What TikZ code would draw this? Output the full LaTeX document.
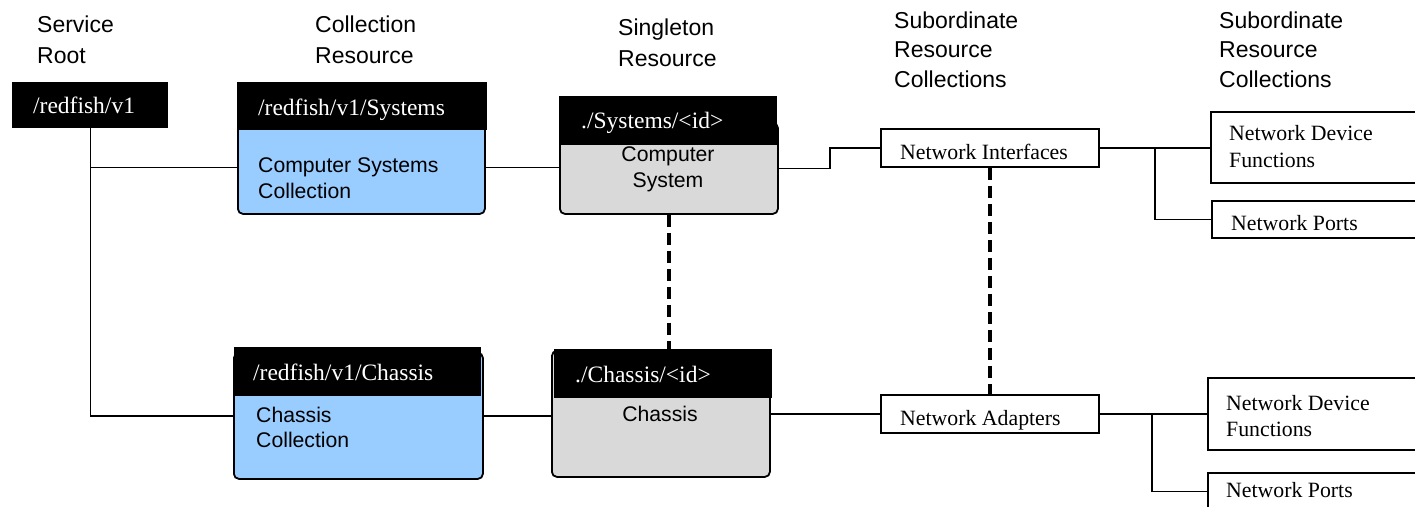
\documentclass[tikz,border=0pt]{standalone}
\usepackage{fontspec}
\setmainfont{Liberation Serif}
\setsansfont{Liberation Sans}
\usetikzlibrary{calc}
\definecolor{collblue}{HTML}{99CCFF}
\definecolor{singray}{HTML}{D9D9D9}
\begin{document}
\begin{tikzpicture}[x=1pt,y=-1pt,
 colhdr/.style={font=\sffamily\fontsize{23}{31}\selectfont, align=left, anchor=base west, inner sep=0pt},
 blackbar/.style={fill=black, draw=none, anchor=north west, inner sep=0pt},
 body/.style={draw=black, line width=1.8pt, rounded corners=5pt, anchor=north west, inner sep=0pt},
 whitebox/.style={draw=black, fill=white, line width=1.8pt, anchor=north west, inner sep=0pt},
 bartext/.style={text=white, font=\fontsize{23.5}{26}\selectfont, anchor=base west, inner sep=0pt},
 sanstext/.style={font=\sffamily\fontsize{21.2}{26}\selectfont, inner sep=0pt, anchor=base west, align=left},
 serftext/.style={font=\fontsize{21.8}{27}\selectfont, inner sep=0pt, anchor=base west, align=left},
 link/.style={line width=1.4pt},
 dashlink/.style={line width=3.2pt, dash pattern=on 12pt off 6pt}]
\useasboundingbox (0,0) rectangle (1415,506);
\clip (0,0) rectangle (1415,506);

% column headers (anchored at the baseline of the last line)
\node[colhdr] (h1) at (37,63) {Service\\Root};
\node[colhdr] (h2) at (315,63) {Collection\\Resource};
\node[colhdr] (h3) at (618,66) {Singleton\\Resource};
\node[colhdr, font=\sffamily\fontsize{23}{29.5}\selectfont] (h4) at (894,87) {Subordinate\\Resource\\Collections};
\node[colhdr, font=\sffamily\fontsize{23}{29.5}\selectfont] (h5) at (1219,87) {Subordinate\\Resource\\Collections};

% service root
\node[blackbar, minimum width=156pt, minimum height=46pt] (root) at (12,82) {};
\node[bartext] (rootT) at (33,113) {/redfish/v1};

% systems collection
\node[body, fill=collblue, minimum width=247pt, minimum height=93pt] (sysc) at (237,120) {};
\node[blackbar, minimum width=250pt, minimum height=48pt] (syscH) at (237,82) {};
\node[bartext] (syscHT) at (258,115) {/redfish/v1/Systems};
\node[sanstext] (syscT) at (258,198) {Computer Systems\\Collection};

% computer system
\node[body, fill=singray, minimum width=218pt, minimum height=91pt] (syss) at (559,122) {};
\node[blackbar, minimum width=218pt, minimum height=49pt] (syssH) at (559,96) {};
\node[bartext] (syssHT) at (581,128) {./Systems/\textless id\textgreater};
\node[sanstext, anchor=base, align=center, font=\sffamily\fontsize{21.2}{25.5}\selectfont] (syssT) at (668,187) {Computer\\System};

% chassis collection
\node[body, fill=collblue, minimum width=249pt, minimum height=126pt] (chc) at (233,352) {};
\node[blackbar, minimum width=247pt, minimum height=49pt] (chcH) at (234,347) {};
\node[bartext] (chcHT) at (253,380) {/redfish/v1/Chassis};
\node[sanstext, font=\sffamily\fontsize{21.2}{25}\selectfont] (chcT) at (256,447) {Chassis\\Collection};

% chassis
\node[body, fill=singray, minimum width=218pt, minimum height=126pt] (chs) at (551,350) {};
\node[blackbar, minimum width=218pt, minimum height=49pt] (chsH) at (554,349) {};
\node[bartext] (chsHT) at (575,382) {./Chassis/\textless id\textgreater};
\node[sanstext, anchor=base] (chsT) at (660,421) {Chassis};

% subordinate collections
\node[whitebox, minimum width=218pt, minimum height=38pt] (ni) at (880,128) {};
\node[serftext] (niT) at (900,159) {Network Interfaces};
\node[whitebox, minimum width=218pt, minimum height=38pt] (na) at (880,394) {};
\node[serftext] (naT) at (900,425) {Network Adapters};

\node[whitebox, minimum width=260pt, minimum height=71pt] (ndfA) at (1210,111) {};
\node[serftext] (ndfAT) at (1229,167) {Network Device\\Functions};
\node[whitebox, minimum width=260pt, minimum height=37pt] (npA) at (1211,200) {};
\node[serftext] (npAT) at (1231,230) {Network Ports};

\node[whitebox, minimum width=260pt, minimum height=72pt] (ndfB) at (1207,377) {};
\node[serftext, font=\fontsize{21.8}{26}\selectfont] (ndfBT) at (1226,436) {Network Device\\Functions};
\node[whitebox, minimum width=260pt, minimum height=37pt] (npB) at (1207,472) {};
\node[serftext] (npBT) at (1226,497) {Network Ports};

% connectors
\coordinate (brA) at (1155,0);
\coordinate (brB) at (1152,0);
\draw[link] (root.south) |- (sysc.west);
\draw[link] (root.south) |- (chc.west);
\draw[link] (sysc.east) -- (sysc.east -| syss.west);
\draw[link] (syss.east) -- ++(51,0) |- (ni.west);
\draw[link] (ni.east) -- (ni.east -| ndfA.west);
\draw[link] (ni.east -| brA) |- (npA.west);
\draw[link] (chc.east) -- (chc.east -| chs.west);
\draw[link] (chs.east) -- (chs.east -| na.west);
\draw[link] (na.east) -- (na.east -| ndfB.west);
\draw[link] (na.east -| brB) |- (npB.west);
\draw[dashlink] (syss.south) -- (syss.south |- chsH.north);
\draw[dashlink] (ni.south) -- (na.north);
\end{tikzpicture}
\end{document}
